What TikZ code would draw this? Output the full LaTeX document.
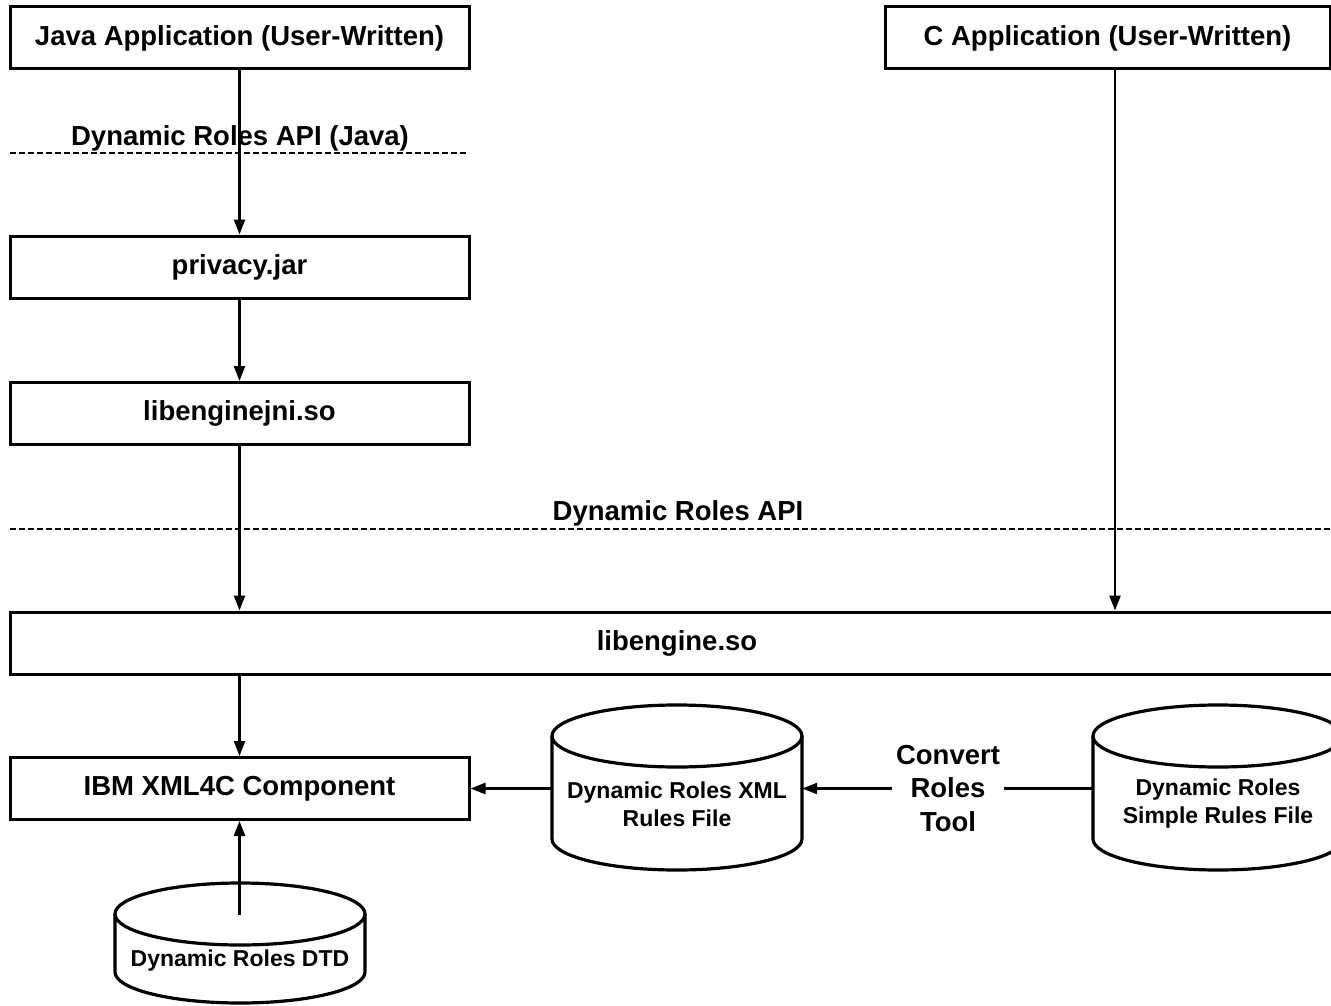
\documentclass[tikz,border=0pt]{standalone}
\usepackage{fontspec}
\setmainfont{Liberation Sans}
\usetikzlibrary{arrows.meta}

\begin{document}
\begin{tikzpicture}[x=1pt,y=1pt,
  every node/.style={font=\bfseries\fontsize{27.5}{33}\selectfont},
  box/.style={draw,line width=3pt,rectangle,minimum height=62pt,inner sep=0pt},
  arr/.style={line width=2.4pt,-{Triangle[length=15pt,width=11pt]}},
  plain/.style={line width=2.4pt},
  apiline/.style={line width=2.8pt,dash pattern=on 6pt off 3pt},
  cyl/.style={line width=3.2pt},
  anchorbox/.style={inner sep=0pt,minimum height=60pt,minimum width=250pt},
  cyltext/.style={align=center,font=\bfseries\fontsize{23}{28}\selectfont},
]
\useasboundingbox (0,0) rectangle (1331,-1006);
\clip (0,0) rectangle (1331,-1006);

% application layer
\node[box,minimum width=459pt] (java) at (239.5,-38) {Java Application (User-Written)};
\node[box,minimum width=445pt] (capp) at (1107.5,-38) {C Application (User-Written)};

% Java API boundary
\coordinate (d1a) at (10,-153);
\coordinate (d1b) at (469,-153);
\draw[apiline] (d1a) -- (d1b);
\node (lbl1) at (240,-138) {Dynamic Roles API (Java)};

% Java binding libraries
\node[box,minimum width=459pt] (privacy) at (239.5,-267) {privacy.jar};
\node[box,minimum width=459pt] (jni) at (239.5,-413.5) {libenginejni.so};

% native API boundary
\coordinate (d2a) at (10,-529);
\coordinate (d2b) at (1331,-529);
\draw[apiline] (d2a) -- (d2b);
\node (lbl2) at (678,-513) {Dynamic Roles API};

% engine and parser
\node[box,minimum width=1334pt] (eng) at (677,-643) {libengine.so};
\node[box,minimum width=459pt] (ibm) at (239.5,-788.5) {IBM XML4C Component};

% rule files (drum shapes)
\draw[cyl] (552,-736) -- (552,-839) arc[start angle=180,end angle=360,x radius=125pt,y radius=31pt] -- (802,-736);
\draw[cyl] (677,-736) ellipse[x radius=125pt,y radius=31pt];
\node[anchorbox] (xml) at (677,-788.5) {};
\node[cyltext] (xmltxt) at (677,-804) {Dynamic Roles XML\\Rules File};

\draw[cyl] (1093,-736) -- (1093,-839) arc[start angle=180,end angle=360,x radius=125pt,y radius=31pt] -- (1343,-736);
\draw[cyl] (1218,-736) ellipse[x radius=125pt,y radius=31pt];
\node[anchorbox] (simp) at (1218,-788.5) {};
\node[cyltext] (simptxt) at (1218,-804) {Dynamic Roles\\Simple Rules File};

\draw[cyl] (115,-914) -- (115,-972) arc[start angle=180,end angle=360,x radius=125pt,y radius=31pt] -- (365,-914);
\draw[cyl] (240,-914) ellipse[x radius=125pt,y radius=31pt];
\coordinate (dtdtop) at (239.5,-915);
\node[cyltext] (dtdtxt) at (240,-961) {Dynamic Roles DTD};

% conversion tool
\node[align=center,inner sep=4pt,font=\bfseries\fontsize{27.5}{33.5}\selectfont] (conv) at (948,-788.5) {Convert\\Roles\\Tool};

% connectors
\coordinate (cx) at (1115,0);
\draw[arr] (java.south) -- (privacy.north);
\draw[arr] (privacy.south) -- (jni.north);
\draw[arr] (jni.south) -- (eng.north -| jni.south);
\draw[arr] (capp.south -| cx) -- (eng.north -| cx);
\draw[arr] (eng.south -| ibm.north) -- (ibm.north);
\draw[arr] (dtdtop) -- (ibm.south);
\draw[arr] (xml.west) -- (ibm.east);
\draw[arr] (conv.west) -- (xml.east);
\draw[plain] (simp.west) -- (conv.east);
\end{tikzpicture}
\end{document}
